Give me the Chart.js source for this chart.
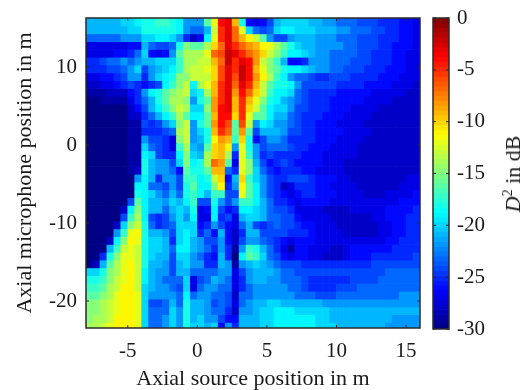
<!DOCTYPE html>
<html>
<head>
<meta charset="utf-8">
<script src="https://cdn.jsdelivr.net/npm/chart.js@4"></script>
<style>
  body { margin: 0; background: #fff; }
  #wrap { position: relative; width: 528px; height: 390px; overflow: hidden; }
  canvas { position: absolute; top: 0; filter: blur(0.6px); }
  #mapChart { left: 0; }
  #barChart { left: 420px; }
  #barLabel {
    position: absolute; left: 513px; top: 174px; white-space: nowrap;
    font: 22px "Liberation Serif", serif; color: #1a1a1a;
    transform: translate(-50%, -50%) rotate(-90deg);
    filter: blur(0.3px);
  }
  #barLabel sup { font-size: 14px; line-height: 0; }
</style>
</head>
<body>
<div id="wrap">
  <canvas id="mapChart" width="528" height="390"></canvas>
  <canvas id="barChart" width="108" height="390"></canvas>
  <div id="barLabel"><i>D</i><sup>2</sup> in dB</div>
</div>
<script>
const sourcePositions = [-7.75,-7.25,-6.75,-6.25,-5.75,-5.25,-4.75,-4.25,-3.75,-3.25,-2.75,-2.25,-1.75,-1.25,-0.75,-0.25,0.25,0.75,1.25,1.75,2.25,2.75,3.25,3.75,4.25,4.75,5.25,5.75,6.25,6.75,7.25,7.75,8.25,8.75,9.25,9.75,10.25,10.75,11.25,11.75,12.25,12.75,13.25,13.75,14.25,14.75,15.25,15.75];
const micPositions = [15.75,14.75,13.75,12.75,11.75,10.75,9.75,8.75,7.75,6.75,5.75,4.75,3.75,2.75,1.75,0.75,-0.25,-1.25,-2.25,-3.25,-4.25,-5.25,-6.25,-7.25,-8.25,-9.25,-10.25,-11.25,-12.25,-13.25,-14.25,-15.25,-16.25,-17.25,-18.25,-19.25,-20.25,-21.25,-22.25,-23.25];
const xTicks = [-5,0,5,10,15];
const yTicks = [-20,-10,0,10];
const barTicks = [0,-5,-10,-15,-20,-25,-30];

// D^2 in dB, one row per microphone position (top to bottom)
const d2Rows = [
[-21,-21,-21,-21,-21,-20,-20,-19,-18,-18,-17,-17,-18,-19,-22,-22,-22,-16,-12,-4,-3,-9,-18,-26,-27,-26,-24,-21,-20,-20,-20,-20,-21,-21,-22,-22,-23,-23,-23,-24,-24,-24,-25,-25,-25,-26,-26,-27],
[-21,-21,-21,-21,-21,-21,-20,-20,-18,-18,-18,-18,-18,-19,-22,-23,-23,-21,-13,-5,-3,-7,-12,-20,-23,-24,-23,-20,-19,-19,-20,-20,-20,-21,-21,-21,-22,-22,-23,-23,-23,-24,-24,-25,-25,-26,-26,-27],
[-23,-23,-23,-23,-23,-22,-22,-22,-20,-20,-19,-19,-20,-22,-25,-28,-26,-19,-12,-5,-3,-7,-9,-11,-13,-16,-22,-24,-24,-22,-21,-21,-21,-22,-22,-22,-23,-23,-23,-24,-24,-24,-25,-25,-25,-26,-26,-27],
[-27,-27,-27,-27,-27,-27,-26,-26,-21,-23,-24,-24,-23,-18,-15,-16,-16,-14,-10,-7,-3,-5,-7,-8,-9,-11,-12,-14,-16,-18,-20,-21,-21,-22,-22,-22,-22,-23,-23,-24,-24,-24,-25,-25,-26,-26,-26,-27],
[-27,-27,-27,-27,-26,-26,-25,-23,-20,-26,-27,-26,-22,-16,-14,-14,-14,-12,-7,-6,-2,-3,-5,-7,-8,-10,-13,-15,-17,-19,-19,-20,-21,-22,-22,-23,-23,-23,-23,-24,-24,-25,-25,-25,-26,-26,-27,-27],
[-25,-25,-24,-23,-23,-22,-23,-22,-21,-21,-20,-20,-20,-17,-14,-14,-13,-13,-9,-7,-2,-5,-3,-4,-8,-13,-15,-17,-21,-26,-26,-25,-22,-22,-22,-23,-23,-23,-24,-24,-24,-25,-25,-25,-26,-26,-27,-27],
[-25,-25,-25,-24,-24,-23,-22,-20,-24,-22,-21,-20,-19,-17,-14,-13,-13,-12,-10,-6,-3,-5,-2,-4,-9,-12,-15,-16,-18,-19,-19,-20,-21,-22,-22,-23,-23,-24,-24,-24,-25,-25,-25,-26,-26,-26,-27,-27],
[-27,-27,-26,-26,-25,-24,-22,-22,-25,-22,-20,-19,-18,-15,-15,-13,-13,-13,-10,-6,-3,-6,-2,-4,-8,-11,-14,-17,-19,-22,-23,-23,-24,-25,-25,-24,-24,-24,-25,-25,-25,-25,-26,-26,-26,-27,-27,-27],
[-28,-28,-27,-27,-26,-25,-24,-25,-26,-25,-24,-19,-17,-15,-13,-19,-14,-12,-9,-5,-3,-7,-3,-5,-9,-13,-16,-18,-18,-19,-22,-24,-24,-24,-24,-24,-25,-25,-25,-25,-26,-26,-26,-26,-27,-27,-27,-28],
[-29,-29,-29,-28,-28,-28,-26,-25,-22,-19,-18,-16,-15,-14,-13,-20,-19,-14,-9,-5,-3,-8,-4,-7,-10,-13,-17,-19,-19,-20,-23,-24,-25,-25,-25,-25,-26,-26,-26,-26,-26,-27,-27,-27,-27,-27,-28,-28],
[-30,-30,-29,-29,-29,-29,-27,-25,-23,-21,-18,-16,-14,-14,-15,-22,-18,-16,-8,-5,-3,-9,-5,-9,-12,-15,-18,-19,-21,-22,-23,-24,-25,-25,-25,-26,-26,-26,-26,-26,-27,-27,-27,-27,-28,-28,-28,-28],
[-30,-30,-30,-30,-30,-30,-28,-26,-24,-21,-19,-17,-15,-13,-14,-20,-20,-15,-8,-4,-3,-9,-5,-10,-13,-16,-19,-20,-20,-22,-24,-24,-25,-25,-25,-26,-26,-26,-27,-27,-27,-27,-28,-28,-28,-28,-28,-28],
[-30,-30,-30,-30,-30,-30,-28,-28,-25,-23,-21,-19,-17,-14,-16,-19,-19,-16,-9,-4,-4,-10,-5,-12,-16,-16,-19,-21,-21,-23,-24,-25,-25,-25,-26,-26,-26,-27,-27,-27,-27,-28,-28,-28,-28,-28,-28,-28],
[-30,-30,-30,-30,-30,-30,-29,-29,-24,-25,-24,-22,-20,-15,-13,-22,-18,-16,-8,-4,-6,-16,-6,-13,-22,-19,-20,-22,-22,-23,-24,-25,-25,-26,-26,-26,-27,-27,-27,-27,-28,-28,-28,-28,-28,-28,-28,-28],
[-30,-30,-30,-30,-30,-30,-29,-29,-25,-25,-25,-24,-23,-14,-13,-22,-20,-18,-9,-5,-7,-16,-8,-16,-24,-21,-21,-21,-22,-24,-24,-25,-25,-26,-26,-26,-26,-27,-27,-27,-27,-28,-28,-28,-28,-28,-28,-28],
[-30,-30,-30,-30,-30,-30,-29,-29,-22,-24,-24,-25,-27,-15,-13,-22,-21,-18,-11,-8,-9,-17,-10,-18,-26,-24,-22,-22,-23,-25,-25,-25,-25,-26,-26,-26,-27,-27,-27,-27,-28,-28,-28,-28,-28,-28,-28,-28],
[-30,-30,-30,-30,-30,-30,-29,-29,-20,-23,-24,-25,-27,-17,-14,-21,-22,-16,-10,-9,-11,-22,-12,-18,-22,-24,-23,-23,-23,-24,-25,-25,-26,-26,-26,-27,-27,-27,-27,-28,-28,-28,-28,-28,-28,-28,-28,-28],
[-30,-30,-30,-30,-30,-30,-29,-29,-19,-20,-24,-25,-25,-19,-15,-20,-21,-14,-10,-9,-14,-25,-12,-17,-22,-25,-24,-25,-25,-25,-25,-26,-26,-26,-27,-27,-27,-27,-27,-28,-28,-28,-28,-28,-28,-28,-28,-28],
[-30,-30,-30,-30,-30,-30,-29,-29,-18,-21,-22,-22,-24,-20,-15,-19,-18,-14,-7,-8,-16,-27,-12,-15,-21,-24,-26,-25,-24,-25,-26,-26,-26,-26,-27,-27,-27,-28,-28,-28,-28,-28,-28,-28,-28,-28,-28,-28],
[-30,-30,-30,-30,-30,-30,-29,-28,-18,-21,-22,-22,-23,-26,-16,-18,-18,-16,-9,-9,-23,-25,-12,-15,-20,-23,-25,-26,-25,-25,-25,-26,-26,-27,-27,-27,-27,-28,-28,-28,-28,-28,-28,-28,-28,-28,-28,-28],
[-30,-30,-30,-30,-30,-30,-30,-22,-19,-21,-25,-22,-22,-24,-17,-17,-19,-18,-13,-10,-26,-21,-10,-17,-20,-22,-24,-25,-25,-24,-24,-24,-25,-26,-26,-26,-27,-27,-28,-28,-28,-28,-28,-28,-28,-28,-27,-27],
[-30,-30,-30,-30,-30,-30,-30,-19,-19,-23,-23,-24,-22,-24,-18,-16,-19,-19,-15,-11,-25,-22,-11,-16,-19,-22,-24,-25,-28,-27,-25,-25,-25,-26,-26,-27,-27,-27,-27,-28,-28,-28,-28,-28,-28,-27,-27,-27],
[-30,-30,-30,-30,-30,-30,-30,-18,-19,-20,-22,-23,-21,-23,-18,-17,-19,-21,-17,-17,-24,-24,-12,-16,-19,-22,-24,-25,-26,-27,-26,-25,-25,-26,-26,-26,-27,-27,-27,-27,-28,-28,-28,-27,-27,-27,-27,-26],
[-30,-30,-30,-30,-30,-30,-24,-16,-19,-21,-21,-22,-20,-21,-19,-17,-24,-24,-18,-22,-24,-22,-17,-17,-19,-21,-23,-25,-25,-26,-27,-26,-26,-26,-26,-27,-27,-27,-27,-27,-27,-27,-27,-27,-27,-26,-26,-26],
[-30,-30,-30,-30,-30,-28,-19,-15,-19,-21,-21,-23,-21,-20,-21,-18,-27,-26,-19,-24,-26,-25,-19,-19,-20,-21,-23,-24,-24,-25,-27,-27,-27,-27,-28,-28,-28,-28,-27,-27,-27,-27,-27,-26,-26,-26,-26,-25],
[-30,-30,-30,-30,-30,-24,-17,-14,-19,-24,-25,-24,-22,-20,-22,-19,-27,-27,-19,-25,-24,-27,-21,-20,-20,-21,-23,-23,-24,-24,-26,-27,-27,-27,-27,-28,-28,-28,-28,-28,-28,-27,-27,-26,-26,-26,-25,-25],
[-30,-30,-30,-30,-28,-20,-15,-13,-18,-23,-25,-24,-23,-20,-20,-20,-26,-25,-22,-24,-26,-27,-23,-21,-24,-25,-24,-23,-24,-24,-25,-26,-26,-27,-27,-27,-28,-28,-28,-28,-28,-28,-27,-27,-26,-26,-25,-25],
[-30,-30,-30,-30,-22,-17,-12,-11,-18,-21,-21,-22,-24,-20,-19,-20,-25,-23,-26,-21,-26,-28,-25,-21,-21,-24,-24,-24,-24,-25,-25,-25,-26,-27,-27,-27,-27,-28,-28,-28,-28,-28,-27,-27,-26,-26,-25,-25],
[-30,-30,-30,-28,-19,-15,-11,-12,-18,-20,-20,-21,-25,-20,-19,-21,-22,-24,-24,-22,-26,-28,-24,-22,-22,-23,-24,-25,-26,-27,-26,-26,-26,-27,-27,-27,-27,-27,-27,-27,-27,-27,-27,-26,-26,-25,-25,-25],
[-30,-30,-30,-21,-17,-13,-12,-13,-18,-20,-20,-21,-23,-19,-19,-21,-22,-23,-25,-22,-25,-29,-22,-17,-18,-21,-23,-25,-27,-29,-26,-26,-27,-27,-27,-28,-28,-27,-26,-26,-26,-26,-26,-26,-25,-25,-25,-25],
[-30,-30,-25,-18,-15,-12,-12,-13,-18,-20,-21,-21,-24,-20,-20,-22,-23,-25,-26,-21,-25,-30,-19,-16,-17,-20,-23,-24,-26,-27,-26,-26,-27,-27,-28,-28,-28,-27,-26,-26,-26,-25,-25,-25,-25,-25,-25,-24],
[-30,-28,-21,-16,-14,-12,-11,-13,-18,-21,-21,-22,-24,-21,-20,-22,-22,-25,-25,-21,-22,-29,-22,-21,-20,-21,-22,-23,-24,-24,-24,-25,-25,-25,-25,-25,-25,-25,-25,-25,-25,-24,-24,-24,-24,-24,-24,-24],
[-20,-20,-18,-15,-14,-12,-11,-13,-19,-21,-22,-22,-24,-21,-21,-23,-23,-23,-23,-22,-22,-27,-24,-22,-21,-21,-21,-22,-23,-23,-24,-24,-24,-24,-24,-24,-24,-24,-24,-24,-24,-24,-24,-23,-23,-23,-23,-23],
[-18,-18,-17,-15,-13,-12,-11,-13,-19,-21,-22,-23,-23,-23,-20,-27,-24,-23,-21,-22,-23,-27,-25,-22,-21,-21,-22,-22,-23,-23,-23,-24,-25,-25,-25,-25,-25,-25,-24,-24,-24,-24,-23,-23,-23,-23,-23,-23],
[-17,-17,-16,-14,-13,-11,-11,-13,-20,-21,-22,-22,-23,-24,-20,-27,-23,-22,-22,-23,-23,-27,-25,-23,-22,-22,-22,-22,-22,-23,-23,-24,-25,-25,-25,-25,-24,-24,-24,-23,-23,-23,-23,-23,-23,-23,-23,-23],
[-16,-16,-15,-14,-12,-11,-11,-12,-20,-22,-22,-22,-22,-23,-19,-23,-22,-22,-23,-23,-24,-28,-23,-23,-22,-22,-22,-22,-22,-22,-23,-23,-23,-24,-24,-24,-23,-23,-23,-23,-23,-23,-23,-23,-23,-22,-22,-22],
[-15,-15,-14,-13,-12,-11,-11,-12,-20,-24,-24,-23,-21,-23,-18,-21,-21,-22,-24,-23,-24,-27,-23,-22,-21,-21,-20,-20,-21,-21,-21,-21,-21,-21,-22,-22,-22,-22,-22,-22,-22,-22,-22,-22,-22,-22,-22,-22],
[-15,-15,-14,-13,-12,-11,-11,-12,-20,-23,-23,-23,-20,-22,-18,-21,-21,-22,-23,-23,-25,-28,-22,-22,-21,-20,-20,-19,-19,-19,-20,-20,-20,-20,-20,-21,-21,-21,-21,-21,-21,-21,-21,-21,-21,-21,-21,-21],
[-15,-14,-14,-13,-11,-11,-11,-12,-20,-23,-23,-22,-20,-22,-18,-21,-20,-22,-22,-24,-26,-26,-21,-21,-21,-20,-20,-19,-19,-19,-19,-19,-19,-20,-20,-21,-21,-21,-21,-21,-21,-21,-21,-21,-22,-22,-22,-22],
[-14,-14,-13,-12,-11,-11,-11,-12,-20,-23,-23,-22,-20,-22,-18,-20,-20,-21,-20,-26,-22,-25,-21,-21,-21,-20,-20,-19,-19,-19,-19,-19,-19,-20,-20,-20,-21,-21,-21,-21,-21,-21,-21,-22,-22,-22,-22,-22]
];

const FONT = "'Liberation Serif', serif";
const INK = "#1a1a1a";

// matlab style jet, 64 levels from -30 to 0 dB
function jetColor(db) {
  const level = Math.max(0, Math.min(63, Math.floor((db + 30) / 30 * 64)));
  const t = (level + 0.5) / 64;
  const band = (c) => Math.round(255 * Math.max(0, Math.min(1, 1.5 - Math.abs(4 * t - c))));
  return `rgb(${band(3)},${band(2)},${band(1)})`;
}

// inward ticks on all four sides plus the box round the plot
const boxPlugin = {
  id: "box",
  afterDatasetsDraw(chart) {
    const { ctx, chartArea: a, scales } = chart;
    ctx.save();
    ctx.strokeStyle = "#2a2a2a";
    ctx.lineWidth = 1;
    scales.x.ticks.forEach((t) => {
      if (!chart.options.plugins.box.xTicks) return;
      const px = scales.x.getPixelForValue(t.value);
      ctx.beginPath();
      ctx.moveTo(px, a.top); ctx.lineTo(px, a.top + 3);
      ctx.moveTo(px, a.bottom); ctx.lineTo(px, a.bottom - 3);
      ctx.stroke();
    });
    scales.y.ticks.forEach((t) => {
      const py = scales.y.getPixelForValue(t.value);
      ctx.beginPath();
      ctx.moveTo(a.left, py); ctx.lineTo(a.left + 3, py);
      ctx.moveTo(a.right, py); ctx.lineTo(a.right - 3, py);
      ctx.stroke();
    });
    ctx.lineWidth = 1.5;
    ctx.strokeRect(a.left, a.top, a.right - a.left, a.bottom - a.top);
    ctx.restore();
  },
};

//heat map, one floating bar dataset per microphone row
new Chart(document.getElementById("mapChart"), {
  type: "bar",
  data: {
    datasets: micPositions.map((mic, r) => ({
      data: sourcePositions.map((src) => ({ x: src, y: [mic - 0.5, mic + 0.5] })),
      backgroundColor: d2Rows[r].map(jetColor),
      borderWidth: 0,
      grouped: false,
      barPercentage: 1,
      categoryPercentage: 1,
    })),
  },
  plugins: [boxPlugin],
  options: {
    responsive: false,
    animation: false,
    events: [],
    layout: { padding: { top: 18, right: 108 } },
    plugins: { legend: { display: false }, tooltip: { enabled: false }, box: { xTicks: true } },
    scales: {
      x: {
        type: "linear",
        offset: false,
        min: -8,
        max: 16,
        grid: { display: false },
        border: { display: false },
        afterBuildTicks: (s) => { s.ticks = xTicks.map((v) => ({ value: v })); },
        afterFit: (s) => { s.height = 62; },
        ticks: {
          maxRotation: 0,
          autoSkip: false,
          padding: 3,
          color: INK,
          font: { family: FONT, size: 21 },
          callback: (v) => String(v),
        },
        title: {
          display: true,
          text: "Axial source position in m",
          color: INK,
          font: { family: FONT, size: 22 },
          padding: { top: 0, bottom: -2 },
        },
      },
      y: {
        type: "linear",
        offset: false,
        min: -23.46,
        max: 16.28,
        grid: { display: false },
        border: { display: false },
        afterBuildTicks: (s) => { s.ticks = yTicks.map((v) => ({ value: v })); },
        afterFit: (s) => { s.width = 86; },
        ticks: {
          autoSkip: false,
          padding: 1,
          color: INK,
          font: { family: FONT, size: 21 },
          callback: (v) => String(v),
        },
        title: {
          display: true,
          text: "Axial microphone position in m",
          color: INK,
          font: { family: FONT, size: 22 },
          padding: { top: 12, bottom: 0 },
        },
      },
    },
  },
});

//colour bar
const barLevels = [];
for (let i = 0; i < 64; i++) barLevels.push(-30 + (i + 0.5) * 30 / 64);

new Chart(document.getElementById("barChart"), {
  type: "bar",
  data: {
    datasets: [{
      data: barLevels.map((db) => ({ x: 1, y: db })),
      backgroundColor: barLevels.map(jetColor),
      borderWidth: 0,
      barPercentage: 1,
      categoryPercentage: 1,
    }],
  },
  plugins: [boxPlugin],
  options: {
    responsive: false,
    animation: false,
    events: [],
    indexAxis: "y",
    layout: { padding: { top: 18, left: 13 } },
    plugins: { legend: { display: false }, tooltip: { enabled: false }, box: { xTicks: false } },
    scales: {
      x: {
        type: "linear",
        offset: false,
        min: 0,
        max: 1,
        display: true,
        grid: { display: false },
        border: { display: false },
        ticks: { display: false },
        afterFit: (s) => { s.height = 61; },
      },
      y: {
        type: "linear",
        offset: false,
        position: "right",
        min: -30,
        max: 0,
        grid: { display: false },
        border: { display: false },
        afterBuildTicks: (s) => { s.ticks = barTicks.map((v) => ({ value: v })); },
        afterFit: (s) => { s.width = 79; },
        ticks: {
          autoSkip: false,
          padding: 0,
          color: INK,
          font: { family: FONT, size: 21 },
          callback: (v) => String(v),
        },
      },
    },
  },
});
</script>
</body>
</html>
